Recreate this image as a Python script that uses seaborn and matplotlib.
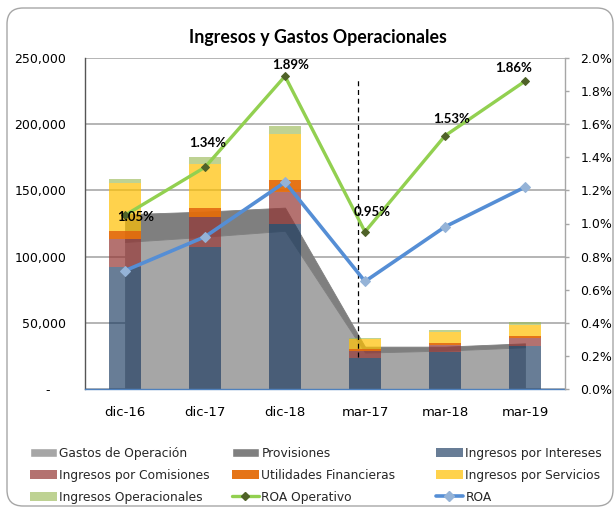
import numpy as np
import pandas as pd
import matplotlib
matplotlib.use("Agg")
import matplotlib.pyplot as plt
import seaborn as sns
from matplotlib.patches import Patch, FancyBboxPatch
from matplotlib.lines import Line2D
from matplotlib.transforms import IdentityTransform

# Data
periodos = ["dic-16", "dic-17", "dic-18", "mar-17", "mar-18", "mar-19"]
gastos_operacion = [111000, 115000, 119500, 27500, 29000, 31500]
provisiones = [21000, 19000, 17500, 4500, 3000, 3000]
ingresos_intereses = [92500, 107500, 125000, 23500, 28000, 32500]
ingresos_comisiones = [21000, 22500, 23500, 5300, 5300, 6000]
utilidades_financieras = [6000, 7000, 9000, 1500, 1500, 1500]
ingresos_servicios = [36000, 33000, 35000, 7600, 8400, 8500]
ingresos_operacionales = [3000, 5000, 6000, 700, 1500, 2000]
roa_operativo = [1.05, 1.34, 1.89, 0.95, 1.53, 1.86]
roa = [0.715, 0.92, 1.25, 0.65, 0.98, 1.22]

df = pd.DataFrame({
    "periodo": periodos,
    "Ingresos por Intereses": ingresos_intereses,
    "Ingresos por Comisiones": ingresos_comisiones,
    "Utilidades Financieras": utilidades_financieras,
    "Ingresos por Servicios": ingresos_servicios,
    "Ingresos Operacionales": ingresos_operacionales,
})

sns.set_theme(style="white")
plt.rcParams["font.family"] = ["DejaVu Sans"]

fig = plt.figure(figsize=(6.15, 5.08), dpi=100)
ax = fig.add_axes([85 / 615, 119 / 508, 480 / 615, 331 / 508])
pos = np.arange(len(periodos))

# stacked areas (expenses)
area_colors = ["#A6A6A6", "#7F7F7F"]
polys = ax.stackplot(pos, gastos_operacion, provisiones, colors=area_colors, zorder=1)
for p, c in zip(polys, area_colors):
    p.set_edgecolor(c)
    p.set_linewidth(0.6)

# stacked bars (income)
bar_styles = {
    "Ingresos por Intereses": ("#17375E", 0.65),
    "Ingresos por Comisiones": ("#943634", 0.7),
    "Utilidades Financieras": ("#E46C0A", 0.95),
    "Ingresos por Servicios": ("#FFC000", 0.7),
    "Ingresos Operacionales": ("#9BBB59", 0.65),
}
bottom = np.zeros(len(periodos))
for col, (c, a) in bar_styles.items():
    ax.bar(pos, df[col], bottom=bottom, width=0.4, color=c, alpha=a,
           linewidth=0, zorder=2)
    bottom += df[col].values

ax.set_xlim(-0.5, 5.5)
ax.set_ylim(0, 250000)
ax.set_yticks(np.arange(0, 250001, 50000))
ax.set_yticklabels(["-    "] + [f"{v:,}" for v in range(50000, 250001, 50000)])
ax.set_xticks(pos)
ax.set_xticklabels(periodos)
ax.grid(axis="y", color="#A0A0A0", linewidth=1.1)
ax.grid(axis="x", visible=False)
ax.set_axisbelow(True)
ax.tick_params(axis="y", length=0, pad=13.5, labelsize=9, colors="#000000")
ax.tick_params(axis="x", length=0, pad=12, labelsize=9.5, colors="#000000")
for s in ["top", "right"]:
    ax.spines[s].set_visible(False)
ax.spines["left"].set_color("#555555")
ax.spines["left"].set_linewidth(1)
ax.spines["bottom"].set_color("#4F81BD")
ax.spines["bottom"].set_linewidth(1)

# dashed separator between annual and quarterly data
ax.vlines(2.91, 24000, 234000, colors="#000000", linestyles=(0, (4, 3)),
          linewidth=0.9, zorder=3)

# ROA lines on secondary axis
ax2 = ax.twinx()
sns.lineplot(x=pos, y=roa, ax=ax2, color="#558ED5", linewidth=2.6,
             marker="D", markersize=5, markerfacecolor="#95B3D7",
             markeredgecolor="#95B3D7")
sns.lineplot(x=pos, y=roa_operativo, ax=ax2, color="#92D050", linewidth=2.4,
             marker="D", markersize=4, markerfacecolor="#4F6228",
             markeredgecolor="#4F6228")
ax2.set_ylim(0, 2.0)
ax2.set_yticks(np.arange(0, 2.01, 0.2))
ax2.set_yticklabels([f"{v:.1f}%" for v in np.arange(0, 2.01, 0.2)])
ax2.tick_params(axis="y", length=3, width=1, color="#A6A6A6", pad=8,
                labelsize=9, colors="#000000")
ax2.tick_params(axis="y", color="#A6A6A6")
ax2.grid(False)
for s in ["top", "left", "bottom"]:
    ax2.spines[s].set_visible(False)
ax2.spines["right"].set_color("#A6A6A6")
ax2.spines["right"].set_linewidth(1)
ax2.set_xlim(-0.5, 5.5)

label_offsets = [(11, -2), (3, 24), (6, 11), (7, 20), (7, 17), (-11, 13)]
for x, v, (dx, dy) in zip(pos, roa_operativo, label_offsets):
    ax2.annotate(f"{v:.2f}%", (x, v), xytext=(dx, dy),
                 textcoords="offset pixels", ha="center", va="center",
                 fontsize=9.5, fontweight="bold", family=["Lato", "DejaVu Sans"],
                 color="#000000")

fig.text(318 / 615, 1 - 37 / 508, "Ingresos y Gastos Operacionales",
         ha="center", va="center", fontsize=12.8, fontweight="bold",
         family=["Lato", "DejaVu Sans"], color="#000000")

# legend: three columns placed like the reference
def patch(col):
    c, a = bar_styles[col]
    return Patch(facecolor=c, alpha=a, edgecolor="none")

cols = [
    ([Patch(facecolor="#A6A6A6"), patch("Ingresos por Comisiones"),
      patch("Ingresos Operacionales")],
     ["Gastos de Operación", "Ingresos por Comisiones", "Ingresos Operacionales"], 30),
    ([Patch(facecolor="#7F7F7F"), patch("Utilidades Financieras"),
      Line2D([0], [0], color="#92D050", lw=2.4, marker="D", markersize=4,
             markerfacecolor="#4F6228", markeredgecolor="#4F6228")],
     ["Provisiones", "Utilidades Financieras", "ROA Operativo"], 232),
    ([patch("Ingresos por Intereses"), patch("Ingresos por Servicios"),
      Line2D([0], [0], color="#558ED5", lw=2.6, marker="D", markersize=5,
             markerfacecolor="#95B3D7", markeredgecolor="#95B3D7")],
     ["Ingresos por Intereses", "Ingresos por Servicios", "ROA"], 436),
]
for handles, labels, xpx in cols:
    fig.legend(handles, labels, loc="upper left",
               bbox_to_anchor=(xpx / 615, 1 - 447 / 508), frameon=False,
               fontsize=8.8, handlelength=2.2, handleheight=0.7,
               handletextpad=0.2, labelspacing=0.72, borderpad=0,
               borderaxespad=0)

# rounded chart border
border = FancyBboxPatch((7, 2), 606, 498, boxstyle="round,pad=0,rounding_size=16",
                        transform=IdentityTransform(), facecolor="none",
                        edgecolor="#A6A6A6", linewidth=1)
fig.patches.append(border)

fig.savefig("out.png", dpi=100)
